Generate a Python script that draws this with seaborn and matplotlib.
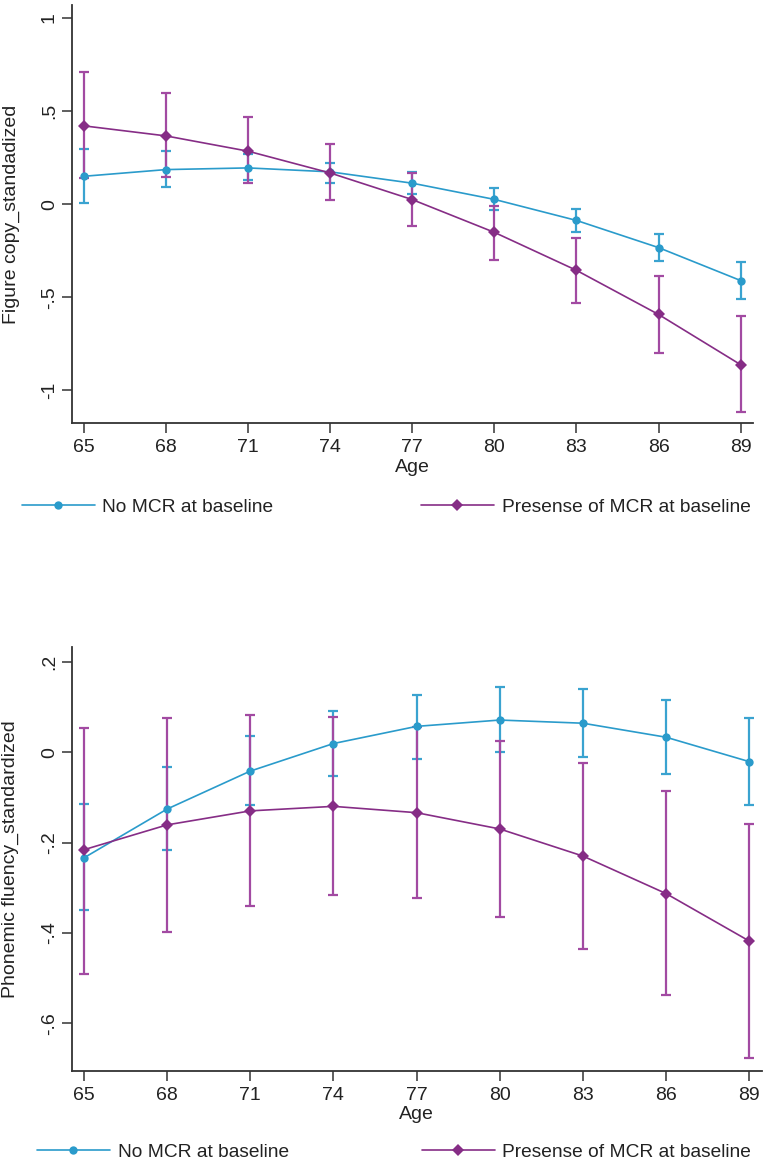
import pandas as pd
import matplotlib.pyplot as plt
import seaborn as sns

# --- Data (predicted means with 95% CI) ---
ages = [65, 68, 71, 74, 77, 80, 83, 86, 89]
groups = ['No MCR at baseline', 'Presense of MCR at baseline']

# Figure copy (top panel)
copy_no = [0.150, 0.186, 0.195, 0.174, 0.113, 0.026, -0.087, -0.233, -0.410]
copy_no_lo = [0.007, 0.090, 0.129, 0.115, 0.055, -0.029, -0.148, -0.306, -0.510]
copy_no_hi = [0.296, 0.285, 0.272, 0.224, 0.171, 0.086, -0.027, -0.160, -0.310]
copy_mcr = [0.421, 0.367, 0.285, 0.168, 0.025, -0.151, -0.355, -0.592, -0.862]
copy_mcr_lo = [0.140, 0.147, 0.115, 0.022, -0.115, -0.297, -0.528, -0.798, -1.117]
copy_mcr_hi = [0.708, 0.595, 0.466, 0.321, 0.168, -0.010, -0.179, -0.384, -0.601]

# Phonemic fluency (bottom panel)
flu_no = [-0.234, -0.126, -0.042, 0.019, 0.057, 0.071, 0.064, 0.033, -0.021]
flu_no_lo = [-0.350, -0.216, -0.118, -0.053, -0.015, 0.000, -0.011, -0.049, -0.116]
flu_no_hi = [-0.114, -0.034, 0.035, 0.090, 0.127, 0.144, 0.139, 0.115, 0.075]
flu_mcr = [-0.216, -0.161, -0.130, -0.120, -0.134, -0.170, -0.230, -0.313, -0.418]
flu_mcr_lo = [-0.490, -0.398, -0.341, -0.316, -0.323, -0.364, -0.435, -0.538, -0.676]
flu_mcr_hi = [0.054, 0.075, 0.083, 0.077, 0.055, 0.024, -0.025, -0.086, -0.160]

copy_ticks = [1, 0.5, 0, -0.5, -1]
copy_ticklabels = ['1', '.5', '0', '-.5', '-1']
flu_ticks = [0.2, 0, -0.2, -0.4, -0.6]
flu_ticklabels = ['.2', '0', '-.2', '-.4', '-.6']

# --- Style ---
sns.set_style('ticks')
plt.rcParams['font.family'] = ['Liberation Sans', 'DejaVu Sans']
plt.rcParams['font.size'] = 14

line_col = {groups[0]: '#2a9bcb', groups[1]: '#862d86'}
err_col = {groups[0]: '#3aa3d0', groups[1]: '#a24aa2'}
mark_col = {groups[0]: '#1487bd', groups[1]: '#751c72'}
markers = {groups[0]: 'o', groups[1]: 'D'}
axis_col = '#333333'
text_col = '#222222'

W, H = 768, 1165
fig = plt.figure(figsize=(W / 100, H / 100), dpi=100)


def panel(rect, mean, lo, hi, ylim, ticks, ticklabels, ylabel, leg_x, leg_y):
    ax = fig.add_axes([rect[0] / W, 1 - rect[3] / H, (rect[2] - rect[0]) / W, (rect[3] - rect[1]) / H])
    df = pd.DataFrame({
        'Age': ages * 2,
        'value': mean[0] + mean[1],
        'group': [groups[0]] * len(ages) + [groups[1]] * len(ages),
    })
    # error bars first so the lines sit on top
    for g, m, l, h in zip(groups, mean, lo, hi):
        yerr = [[a - b for a, b in zip(m, l)], [b - a for a, b in zip(m, h)]]
        ax.errorbar(ages, m, yerr=yerr, fmt='none', ecolor=err_col[g],
                    elinewidth=1.6, capsize=3.5, capthick=1.6, zorder=1)
    sns.lineplot(data=df, x='Age', y='value', hue='group', style='group',
                 hue_order=groups, palette=line_col, markers=markers, dashes=False,
                 linewidth=1.2, markersize=6, markeredgewidth=0, ax=ax, zorder=2)
    for ln, g in zip(ax.lines[-2:], groups):
        ln.set_markerfacecolor(mark_col[g])
        ln.set_markeredgecolor(mark_col[g])

    ax.set_xlim(64.56, 89.45)
    ax.set_ylim(*ylim)
    ax.set_xticks(ages)
    ax.set_xticklabels([str(a) for a in ages])
    ax.set_yticks(ticks)
    ax.set_yticklabels(ticklabels, rotation=90, va='center')
    ax.tick_params(axis='both', length=7, width=1.1, color=axis_col, labelsize=14,
                   labelcolor=text_col)
    ax.tick_params(axis='x', pad=4.5)
    ax.tick_params(axis='y', pad=3)
    for s in ['top', 'right']:
        ax.spines[s].set_visible(False)
    for s in ['left', 'bottom']:
        ax.spines[s].set_color(axis_col)
        ax.spines[s].set_linewidth(1.3)
    ax.set_xlabel('Age', labelpad=2, fontsize=14, color=text_col)
    ax.set_ylabel(ylabel, fontsize=14, color=text_col)
    ax.yaxis.set_label_coords(-0.076, 0.5)

    # split seaborn's legend into two entries placed like the original
    old = ax.get_legend()
    handles = old.legend_handles
    labels = [t.get_text() for t in old.get_texts()]
    old.remove()
    for i, x in enumerate(leg_x):
        leg = ax.legend([handles[i]], [labels[i]], loc='center left',
                        bbox_to_anchor=(x / W, 1 - leg_y / H), bbox_transform=fig.transFigure,
                        frameon=False, fontsize=13.8, handlelength=3.8, handletextpad=0.4,
                        borderpad=0, borderaxespad=0)
        leg.get_texts()[0].set_color(text_col)
        if i < len(leg_x) - 1:
            ax.add_artist(leg)
    return ax


panel((71.7, 5, 753, 423), [copy_no, copy_mcr], [copy_no_lo, copy_mcr_lo],
      [copy_no_hi, copy_mcr_hi], (-1.175, 1.07), copy_ticks, copy_ticklabels,
      'Figure copy_standadized', (22, 421), 507)
panel((71.7, 647.3, 761.7, 1070.7), [flu_no, flu_mcr], [flu_no_lo, flu_mcr_lo],
      [flu_no_hi, flu_mcr_hi], (-0.705, 0.232), flu_ticks, flu_ticklabels,
      'Phonemic fluency_standardized', (37, 422), 1152)

fig.savefig('out.png', dpi=100, facecolor='white')
